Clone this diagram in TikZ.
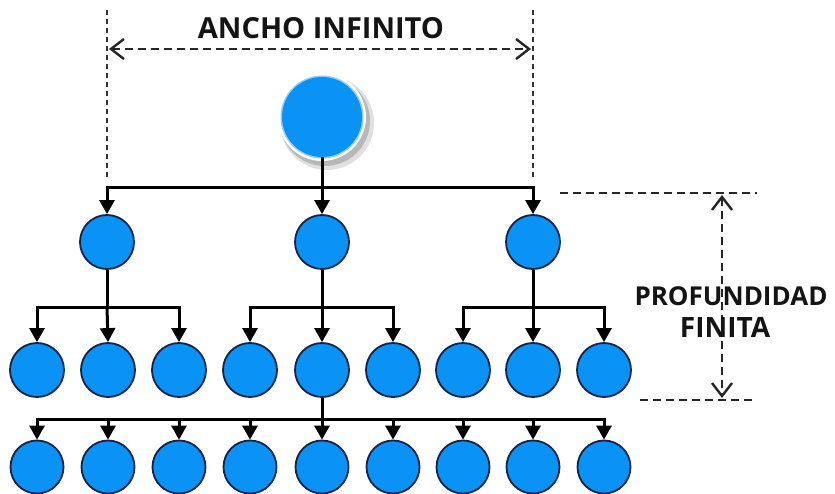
\documentclass[tikz,border=0pt]{standalone}
\usepackage{fontspec}
\setmainfont{Open Sans}
\usetikzlibrary{arrows.meta}
\definecolor{nodeblue}{RGB}{10,146,245}
\definecolor{nodeedge}{RGB}{20,35,70}
\tikzset{
  nd/.style={circle, fill=nodeblue, draw=nodeedge, line width=1.8pt, minimum size=54pt, inner sep=0pt},
  conn/.style={line width=3pt, -{Triangle[length=14pt,width=15pt]}},
  plain/.style={line width=3pt},
  guide/.style={line width=1.8pt, dash pattern=on 5pt off 4pt, black!80},
  dim/.style={line width=2.2pt, dash pattern=on 8pt off 5pt, black!85},
  chev/.style={{Straight Barb[length=13pt,width=20pt,line width=2.4pt]}-{Straight Barb[length=13pt,width=20pt,line width=2.4pt]}},
  lbl/.style={font=\bfseries, text=black!92, inner sep=0pt}
}
\begin{document}
\begin{tikzpicture}[x=1pt,y=-1pt]
\useasboundingbox (0,0) rectangle (835,494);
% guides for width
\coordinate (gl1) at (107,10);
\coordinate (gl2) at (107,178);
\coordinate (gr1) at (533,10);
\coordinate (gr2) at (533,178);
\draw[guide] (gl1) -- (gl2);
\draw[guide] (gr1) -- (gr2);
\coordinate (wl) at (109,49);
\coordinate (wr) at (531,49);
\draw[dim,chev] (wl) -- (wr);
\node[lbl, font=\bfseries\fontsize{29}{30}\selectfont] (wtext) at (321,28) {ANCHO INFINITO};
% depth guides
\coordinate (dt1) at (560,193);
\coordinate (dt2) at (757,193);
\coordinate (db1) at (640,400);
\coordinate (db2) at (752,400);
\draw[dim] (dt1) -- (dt2);
\draw[dim] (db1) -- (db2);
\coordinate (dvt) at (722,195);
\coordinate (dvb) at (722,398);
\draw[dim,chev] (dvt) -- (dvb);
\node[lbl, font=\bfseries\fontsize{26}{26}\selectfont] (dtext1) at (731,296) {PROFUNDIDAD};
\node[lbl, font=\bfseries\fontsize{28}{28}\selectfont] (dtext2) at (725,327) {FINITA};
% root with halo
\fill[black!12] (327,123) circle (47);
\fill[black!28] (325,121) circle (45);
\fill[white] (322,117) circle (44);
\fill[nodeblue!45] (322,117) circle (41.5);
\node[circle, fill=nodeblue, minimum size=80pt, inner sep=0pt] (r) at (322,117) {};
% level 1
\node[nd] (a) at (107,242) {};
\node[nd] (b) at (322,242) {};
\node[nd] (c) at (533,242) {};
% level 2
\node[nd] (a1) at (37,370) {};
\node[nd] (a2) at (108,370) {};
\node[nd] (a3) at (179,370) {};
\node[nd] (b1) at (250,370) {};
\node[nd] (b2) at (322,370) {};
\node[nd] (b3) at (393,370) {};
\node[nd] (c1) at (463,370) {};
\node[nd] (c2) at (533,370) {};
\node[nd] (c3) at (604,370) {};
% level 3
\foreach \i/\x in {1/37,2/108,3/179,4/250,5/322,6/393,7/463,8/533,9/604}
  \node[nd, minimum size=53pt] (d\i) at (\x,467) {};
% connectors root -> level1
\draw[plain] (r.south) -- (322,188);
\draw[conn] (322,188) -| (a.north);
\draw[conn] (322,188) -- (b.north);
\draw[conn] (322,188) -| (c.north);
% level1 -> level2
\draw[plain] (a.south) -- (a.south |- 0,307);
\draw[conn] (a.south |- 0,307) -| (a1.north);
\draw[conn] (a.south |- 0,307) -- (a2.north);
\draw[conn] (a.south |- 0,307) -| (a3.north);
\draw[plain] (b.south) -- (b.south |- 0,307);
\draw[conn] (b.south |- 0,307) -| (b1.north);
\draw[conn] (b.south |- 0,307) -- (b2.north);
\draw[conn] (b.south |- 0,307) -| (b3.north);
\draw[plain] (c.south) -- (c.south |- 0,307);
\draw[conn] (c.south |- 0,307) -| (c1.north);
\draw[conn] (c.south |- 0,307) -- (c2.north);
\draw[conn] (c.south |- 0,307) -| (c3.north);
% level2 -> level3
\draw[plain] (b2.south) -- (b2.south |- 0,419);
\foreach \i in {1,...,9}
  \draw[conn] (b2.south |- 0,419) -| (d\i.north);
\end{tikzpicture}
\end{document}
